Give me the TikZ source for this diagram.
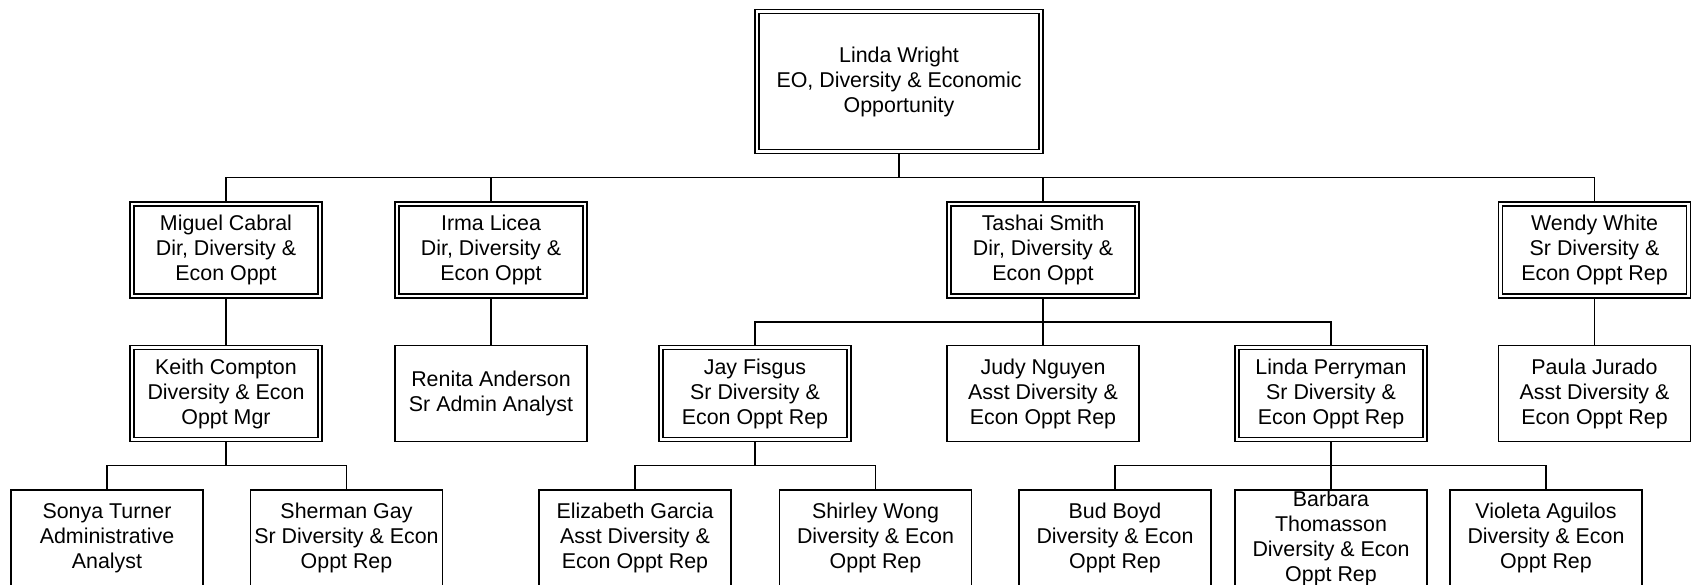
\documentclass[tikz,border=0pt]{standalone}
\usepackage{fontspec}
\setmainfont{Liberation Sans}
\usetikzlibrary{positioning}

\begin{document}
\begin{tikzpicture}[x=0.5pt, y=0.5pt,
  every node/.style={draw, align=center, inner sep=1pt, line width=0.95pt,
    font=\fontsize{10.7}{12.5}\selectfont},
  staffbox/.style={minimum width=96pt, minimum height=48pt, inner ysep=0pt},
  leadbox/.style={double, line width=0.75pt, double distance=1.25pt, outer sep=1pt,
    minimum width=94pt, minimum height=46pt},
  link/.style={line width=0.95pt}]

% ===== Define chart parameters =====
\def\yTop{-81.5}     % centre of top box
\def\yDir{-250}      % centre of director row
\def\yRep{-393.5}    % centre of rep row
\def\yStaff{-538}    % centre of bottom row
\def\drop{24}        % drop from a box down to its branch line

\clip (0,0) rectangle (1691,-584);

% ===== Top =====
\node[leadbox, minimum width=142pt, minimum height=70pt] (LW) at (899,\yTop)
  {Linda Wright\\EO, Diversity \& Economic\\Opportunity};

% ===== Director row =====
\node[leadbox] (MC) at (226,\yDir)    {Miguel Cabral\\Dir, Diversity \&\\Econ Oppt};
\node[leadbox] (IL) at (491,\yDir)    {Irma Licea\\Dir, Diversity \&\\Econ Oppt};
\node[leadbox] (TS) at (1043,\yDir)   {Tashai Smith\\Dir, Diversity \&\\Econ Oppt};
\node[leadbox] (WW) at (1594.5,\yDir) {Wendy White\\Sr Diversity \&\\Econ Oppt Rep};

% ===== Rep row =====
\node[leadbox]  (KC) at (226,\yRep)    {Keith Compton\\Diversity \& Econ\\Oppt Mgr};
\node[staffbox] (RA) at (491,\yRep)    {Renita Anderson\\Sr Admin Analyst};
\node[leadbox]  (JF) at (755,\yRep)    {Jay Fisgus\\Sr Diversity \&\\Econ Oppt Rep};
\node[staffbox] (JN) at (1043,\yRep)   {Judy Nguyen\\Asst Diversity \&\\Econ Oppt Rep};
\node[leadbox]  (LP) at (1331,\yRep)   {Linda Perryman\\Sr Diversity \&\\Econ Oppt Rep};
\node[staffbox] (PJ) at (1594.5,\yRep) {Paula Jurado\\Asst Diversity \&\\Econ Oppt Rep};

% ===== Bottom row =====
\node[staffbox] (ST) at (107,\yStaff)   {Sonya Turner\\Administrative\\Analyst};
\node[staffbox] (SG) at (346.5,\yStaff) {Sherman Gay\\Sr Diversity \& Econ\\Oppt Rep};
\node[staffbox] (EG) at (635,\yStaff)   {Elizabeth Garcia\\Asst Diversity \&\\Econ Oppt Rep};
\node[staffbox] (SW) at (875.5,\yStaff) {Shirley Wong\\Diversity \& Econ\\Oppt Rep};
\node[staffbox] (BB) at (1115,\yStaff)  {Bud Boyd\\Diversity \& Econ\\Oppt Rep};
\node[staffbox] (BT) at (1331,\yStaff)  {Barbara\\Thomasson\\Diversity \& Econ\\Oppt Rep};
\node[staffbox] (VA) at (1546,\yStaff)  {Violeta Aguilos\\Diversity \& Econ\\Oppt Rep};

% ===== Connections =====
\foreach \c in {MC,IL,TS,WW} {
    \draw[link] (LW.south) -- ++(0,-\drop) -| (\c.north);
}
\foreach \p/\c in {MC/KC, IL/RA, TS/JF, TS/JN, TS/LP, WW/PJ,
                   KC/ST, KC/SG, JF/EG, JF/SW, LP/BB, LP/BT, LP/VA} {
    \draw[link] (\p.south) -- ++(0,-\drop) -| (\c.north);
}

\end{tikzpicture}
\end{document}
